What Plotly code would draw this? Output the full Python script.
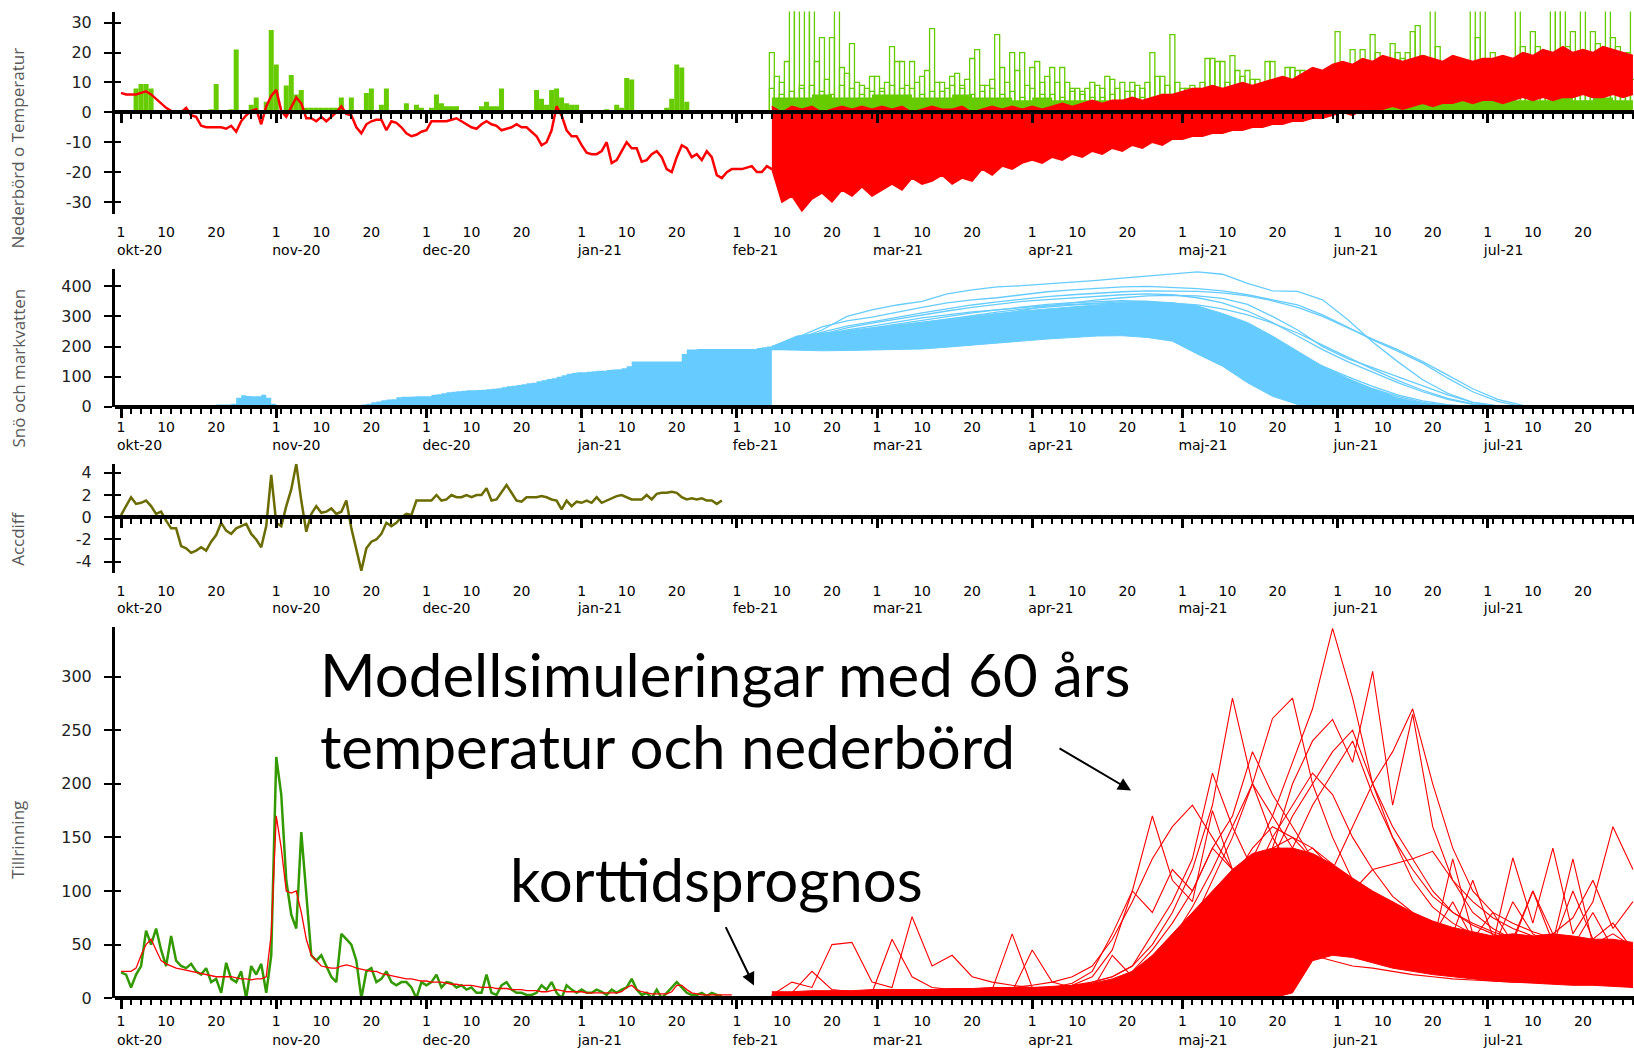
import plotly.graph_objects as go
import pandas as pd

W, H = 1634, 1058

# ---------------------------------------------------------------- data
obs_start = "2020-10-01"
ens_start = "2021-02-08"

months = ["okt-20", "nov-20", "dec-20", "jan-21", "feb-21", "mar-21",
          "apr-21", "maj-21", "jun-21", "jul-21"]
month_starts = ["2020-10-01", "2020-11-01", "2020-12-01", "2021-01-01", "2021-02-01",
                "2021-03-01", "2021-04-01", "2021-05-01", "2021-06-01", "2021-07-01"]
day_numbers = [1, 10, 20]

# observed temperature, daily from 2020-10-01 to 2021-02-08
temp_obs = [6.5, 6, 6, 6, 6.5, 7, 6, 4.5, 3, 1.5,
            0.5, 0, 0, 1.5, -1, -1.5, -4.5, -5, -5, -5,
            -5, -5.5, -4.5, -6.5, -3, -1, 0.5, 1, -4, 2, 5.5,
            7.5, 0.5, -1.5, 2, 5, 3, -2, -2, -3, -1.5,
            -3, -1.5, 0, 2, -0.5, -1, -5, -7, -4, -3,
            -2.5, -2.5, -6, -3, -3.5, -5, -7, -8, -7.5, -6.5,
            -6, -3, -3, -3, -3, -2.5, -2, -3, -4, -5,
            -5.5, -4, -3, -4, -4.5, -6, -5.5, -5, -4, -5,
            -5, -6.5, -8, -11, -10, -6, 2, -1, -6, -8, -8,
            -11, -13.5, -14, -14, -13, -10, -17, -16, -13, -10,
            -12, -12, -16.5, -16, -14, -13, -15, -19, -20, -15,
            -11, -12, -15, -14, -16, -13, -15, -21, -22, -20, -19,
            -19, -19, -18.5, -18, -20, -20, -18, -19]

# observed precipitation, daily from 2020-10-01 to 2021-01-31
precip_obs = [0, 0, 0, 8, 9.5, 9.5, 8, 0, 0, 0,
              0, 0, 0, 0, 0, 0, 0, 0, 1, 9.5,
              0, 0, 1, 21, 0, 0, 2.5, 5, 0, 3.5, 27.5,
              16, 0, 9, 12.5, 6, 7.5, 1.5, 1.5, 1.5, 1.5,
              1.5, 1.5, 1.5, 5, 0, 5, 0, 0, 6.5, 8,
              0, 2.5, 8, 0, 0, 0, 3, 0, 2.5, 1.5,
              0, 1.5, 6, 3, 2, 2, 2, 0, 0, 0,
              0, 2, 3.5, 2, 2, 8, 0, 0, 0, 0,
              0, 0, 7.5, 4.5, 2.5, 7.5, 8, 5, 3, 2.5, 2.5,
              0, 0, 0, 0, 0, 1, 0, 2.5, 1.5, 11.5,
              11, 0, 0, 0, 0, 0, 0, 1.5, 4.5, 16,
              15, 3.5, 0, 0, 0, 0, 0, 0, 0, 0, 0]

# ensemble precipitation (outline bars), 4-day grids with different start days
precip_ens_a_start, precip_ens_a = "2021-02-08", [20, 40, 40, 25, 23, 12, 22, 17, 28, 12, 18, 11, 20, 15, 15, 8, 10, 11, 10, 20, 26, 9, 18, 19, 11, 17, 15, 9, 10, 21, 26, 23, 27, 40, 12, 40, 20, 16, 27, 40, 27, 27, 25, 40]
precip_ens_b_start, precip_ens_b = "2021-02-09", [12, 40, 17, 40, 10, 12, 17, 10, 10, 13, 21, 26, 14, 17, 10, 8, 9, 8, 9, 12, 10, 8, 17, 14, 11, 8, 14, 9, 27, 16, 20, 20, 29, 22, 15, 25, 18, 40, 22, 40, 20, 23, 22, 30]
precip_ens_c_start, precip_ens_c = "2021-02-10", [10, 9, 25, 15, 9, 8, 17, 12, 10, 9, 9, 15, 20, 10, 15, 7, 8, 10, 8, 12, 8, 10, 17, 12, 9, 10, 14, 8, 12, 21, 15, 18, 19, 15, 12, 40, 17, 22, 18, 40, 40, 20, 18]
precip_ens_d_start, precip_ens_d = "2021-02-11", [17, 40, 11, 13, 8, 10, 9, 14, 8, 11, 9, 10, 9, 12, 10, 8, 12, 7, 10, 9, 8, 18, 10, 14, 17, 15, 9, 10, 14, 14, 18, 20, 15, 12, 14, 16, 13, 18, 16, 22, 17, 40, 20]
precip_ens_e_start, precip_ens_e = "2021-02-08", [8, 7, 9, 6, 8, 7, 9, 8, 7, 9, 6, 8, 7, 8, 6, 7, 5, 6, 7, 5, 6, 7, 5, 6, 7, 5, 6, 7, 6, 8, 10, 7, 9, 11, 8, 10, 12, 9, 11, 8, 12, 10, 9, 11]
precip_ens_f_start, precip_ens_f = "2021-02-10", [6, 8, 7, 9, 6, 7, 8, 6, 7, 8, 7, 6, 5, 6, 5, 6, 5, 4, 5, 6, 5, 4, 6, 5, 4, 5, 6, 5, 7, 8, 6, 9, 7, 8, 10, 7, 9, 8, 10, 9, 8, 10, 9]
precip_ens_base = [5, 5, 6, 5, 5, 6, 6, 5, 5, 6, 5, 5, 4, 5, 4, 4, 4, 3, 4, 3, 3, 3, 4, 3, 3, 3, 3, 3, 3, 4, 4, 3, 4, 4, 4, 4, 5, 4, 4, 5, 4, 5, 4, 4]

# ensemble temperature envelope on 2-day grid from 2021-02-08
temp_ens_upper = [2, 0, 2, 1, 2, 0, 1, 2, 1, 2, 1, 2,
                  1, 2, 0, 1, 2, 1, 1, 2, 0, 1, 2, 1, 2, 1,
                  2, 1, 2, 3, 2, 3, 4, 3, 4, 4, 5, 4, 5, 6, 6,
                  7, 8, 8, 9, 8, 9, 10, 9, 10, 11, 12, 11, 13, 15, 14, 16,
                  17, 16, 18, 17, 19, 18, 17, 18, 19, 18, 17, 19, 18, 17, 18,
                  18, 19, 18, 20, 19, 21, 20, 22, 20, 21, 20, 22, 21, 20, 19]
temp_ens_lower = [-19, -30, -28, -33, -29, -27, -30, -26, -28, -25, -28, -26,
                  -24, -26, -22, -24, -23, -21, -24, -22, -23, -19, -21, -18, -19, -17,
                  -16, -17, -15, -16, -14, -15, -13, -14, -12, -13, -11, -12, -10, -11, -9,
                  -9, -8, -8, -7, -7, -6, -6, -5, -5, -4, -4, -3, -3, -2, -2, -1,
                  0, -1, 1, 0, 1, 2, 1, 2, 3, 2, 3, 3, 4, 3, 4,
                  4, 3, 4, 5, 4, 5, 4, 5, 5, 6, 5, 5, 6, 5, 6]

# snow and soil water, observed daily from 2020-10-01 to 2021-02-08
snow_obs = [0, 0, 0, 0, 0, 0, 0, 0, 0, 0,
            0, 0, 0, 0, 0, 0, 0, 0, 0, 8,
            8, 8, 10, 30, 38, 36, 35, 35, 40, 30, 10,
            3, 0, 6, 6, 0, 0, 0, 0, 0, 0,
            0, 0, 0, 0, 0, 0, 5, 8, 10, 15,
            18, 22, 24, 25, 32, 33, 33, 34, 35, 35,
            35, 40, 42, 45, 48, 50, 52, 53, 55, 55,
            56, 57, 58, 60, 62, 65, 68, 70, 72, 75,
            78, 80, 85, 88, 92, 95, 100, 105, 110, 112, 115,
            115, 116, 118, 120, 120, 122, 124, 125, 128, 135,
            150, 150, 150, 150, 150, 150, 150, 150, 150, 150,
            175, 190, 190, 192, 192, 192, 192, 192, 192, 192, 192,
            192, 192, 192, 192, 195, 198, 200, 210]

# snow ensemble on 5-day grid from 2021-02-08
snow_core_upper = [200, 235, 245, 252, 262, 272, 280, 292, 300, 310, 318, 325, 333, 340, 345, 346, 345, 335, 310, 280, 235, 185, 135, 95, 60, 30, 12, 3, 0, 0, 0]
snow_core_lower = [190, 188, 186, 187, 189, 190, 192, 198, 205, 212, 220, 225, 230, 235, 236, 230, 218, 175, 135, 80, 35, 8, 0, 0, 0, 0, 0, 0, 0, 0, 0]
snow_ens_01 = [200, 225, 255, 300, 322, 338, 350, 375, 388, 398, 402, 408, 412, 420, 427, 434, 440, 448, 440, 410, 385, 383, 355, 290, 215, 150, 90, 45, 15, 3, 0]
snow_ens_02 = [200, 230, 265, 285, 298, 315, 330, 345, 355, 362, 372, 382, 388, 393, 398, 400, 396, 392, 385, 372, 355, 338, 305, 265, 222, 185, 145, 95, 50, 18, 0]
snow_ens_03 = [198, 220, 242, 262, 278, 292, 305, 318, 330, 340, 350, 356, 362, 368, 372, 375, 372, 362, 345, 318, 280, 235, 190, 150, 115, 80, 50, 25, 8, 0, 0]
snow_ens_04 = [195, 205, 220, 232, 240, 250, 262, 275, 290, 305, 320, 335, 345, 355, 362, 368, 370, 368, 360, 340, 300, 255, 200, 160, 130, 100, 70, 40, 15, 3, 0]
snow_ens_05 = [190, 192, 195, 198, 200, 203, 205, 210, 215, 222, 228, 234, 240, 245, 248, 245, 232, 205, 165, 115, 65, 25, 5, 0, 0, 0, 0, 0, 0, 0, 0]
snow_ens_06 = [195, 210, 230, 240, 252, 262, 272, 282, 292, 302, 310, 316, 322, 328, 330, 328, 320, 302, 275, 238, 195, 150, 105, 65, 35, 12, 2, 0, 0, 0, 0]
snow_ens_07 = [200, 222, 248, 268, 282, 298, 312, 325, 338, 348, 358, 366, 372, 378, 382, 385, 385, 383, 378, 368, 352, 330, 300, 262, 225, 190, 150, 105, 60, 25, 5]
snow_ens_08 = [192, 198, 205, 215, 225, 238, 250, 262, 272, 280, 290, 298, 305, 310, 312, 310, 300, 285, 262, 232, 195, 160, 125, 90, 60, 35, 15, 5, 0, 0, 0]
snow_ens_09 = [195, 215, 238, 255, 268, 282, 295, 305, 315, 322, 330, 336, 340, 345, 348, 350, 345, 330, 300, 255, 200, 145, 95, 55, 25, 8, 0, 0, 0, 0, 0]
snow_ens_10 = [190, 195, 200, 210, 218, 228, 238, 250, 260, 270, 280, 290, 298, 305, 310, 312, 308, 295, 272, 240, 205, 170, 135, 100, 68, 40, 20, 7, 0, 0, 0]
snow_ens_11 = [198, 218, 235, 250, 262, 275, 288, 300, 312, 322, 332, 340, 346, 350, 352, 350, 342, 325, 295, 250, 195, 140, 90, 50, 20, 5, 0, 0, 0, 0, 0]
snow_ens_12 = [196, 212, 228, 244, 256, 268, 280, 292, 304, 314, 324, 332, 338, 342, 345, 346, 344, 338, 325, 305, 278, 245, 205, 165, 125, 88, 55, 28, 10, 2, 0]

# accumulated difference, daily from 2020-10-01 to 2021-01-29
accdiff_obs = [0.2, 1.0, 1.8, 1.2, 1.3, 1.5, 1.0, 0.3, 0.5, -0.3,
               -1.0, -1.0, -2.6, -2.8, -3.2, -3.0, -2.7, -3.0, -2.2, -1.6,
               -0.5, -1.2, -1.5, -1.0, -0.8, -0.6, -1.5, -2.0, -2.7, -0.8, 3.8,
               -0.5, -0.8, 1.0, 2.5, 4.8, 1.5, -1.3, 0.3, 1.0, 0.4,
               0.5, 0.8, 0.3, 0.5, 1.5, -1.0, -3.0, -4.8, -2.8, -2.2,
               -2.0, -1.5, -0.5, -0.8, -0.5, 0.0, 0.3, 0.2, 1.5, 1.5,
               1.5, 1.5, 2.0, 1.5, 1.6, 2.0, 1.8, 1.8, 2.0, 1.8,
               2.0, 2.0, 2.6, 1.5, 1.6, 2.3, 2.9, 2.2, 1.5, 1.4,
               1.8, 1.8, 1.8, 1.9, 1.8, 1.6, 1.5, 0.7, 1.5, 1.0, 1.4,
               1.3, 1.5, 1.3, 1.8, 1.3, 1.5, 1.7, 1.9, 2.0, 1.8,
               1.6, 1.6, 1.6, 2.0, 1.6, 2.1, 2.2, 2.2, 2.3, 2.2,
               1.8, 1.6, 1.7, 1.6, 1.7, 1.5, 1.5, 1.2, 1.5]

# runoff, observed (daily 2020-10-01 .. 2021-01-29) and simulated (.. 2021-01-31)
runoff_obs = [24, 22, 10, 22, 30, 63, 50, 65, 45, 30,
              58, 35, 30, 28, 32, 25, 22, 28, 15, 18,
              5, 33, 18, 15, 25, 0, 30, 22, 32, 5, 40,
              225, 190, 110, 78, 65, 155, 95, 40, 35, 40,
              30, 20, 15, 60, 55, 50, 35, 0, 25, 28,
              15, 18, 25, 15, 12, 15, 15, 10, 0, 15,
              12, 15, 22, 10, 15, 14, 10, 12, 8, 10,
              5, 5, 22, 5, 3, 12, 15, 8, 5, 5,
              3, 3, 5, 12, 8, 15, 5, 0, 12, 8, 5,
              8, 5, 5, 8, 6, 3, 8, 5, 8, 10,
              18, 8, 3, 5, 0, 8, 0, 5, 10, 15,
              10, 5, 3, 3, 5, 2, 5, 3, 2]
runoff_sim = [25, 25, 25, 28, 40, 50, 55, 45, 35, 32,
              30, 28, 27, 26, 25, 24, 23, 22, 21, 20,
              20, 20, 20, 19, 18, 18, 17, 18, 18, 20, 60,
              170, 140, 100, 98, 100, 80, 55, 40, 35, 30,
              29, 28, 28, 30, 31, 30, 28, 27, 26, 25,
              25, 23, 22, 21, 20, 19, 18, 18, 17, 16,
              16, 15, 15, 15, 14, 13, 13, 12, 12, 12,
              11, 10, 10, 10, 9, 9, 9, 8, 8, 8,
              7, 7, 7, 6, 6, 7, 8, 7, 6, 6, 6,
              6, 5, 5, 5, 5, 5, 5, 5, 6, 10,
              12, 8, 6, 5, 4, 4, 4, 4, 6, 12,
              12, 8, 5, 4, 3, 3, 3, 3, 3, 3, 3]

# runoff ensemble on 4-day grid from 2021-02-08
runoff_core_upper = [6, 6, 7, 7, 7, 8, 8, 8, 8, 9, 9, 10, 10, 10, 11, 12, 14, 18, 25, 40, 60, 80, 100, 120, 135, 140, 140, 135, 125, 112, 100, 90, 80, 72, 66, 62, 58, 60, 58, 60, 58, 55, 55, 52]
runoff_core_lower = [0, 0, 0, 0, 0, 0, 0, 0, 0, 0, 0, 0, 0, 0, 0, 0, 0, 0, 0, 0, 0, 0, 0, 0, 0, 0, 5, 35, 40, 38, 33, 28, 25, 22, 20, 18, 16, 15, 14, 13, 12, 12, 11, 10]
runoff_ens_01 = [2, 5, 25, 8, 6, 5, 55, 20, 10, 8, 7, 8, 60, 10, 8, 12, 20, 45, 100, 170, 110, 90, 175, 120, 80, 60, 50, 40, 35, 30, 28, 25, 22, 20, 18, 17, 16, 15, 15, 14, 13, 13, 12, 12]
runoff_ens_02 = [3, 15, 10, 50, 52, 15, 10, 76, 30, 40, 20, 15, 12, 10, 8, 10, 15, 20, 30, 60, 90, 130, 210, 160, 120, 100, 80, 60, 50, 40, 35, 30, 28, 26, 24, 22, 20, 20, 18, 18, 17, 16, 16, 15]
runoff_ens_03 = [2, 3, 4, 5, 5, 5, 5, 6, 6, 6, 6, 7, 7, 8, 10, 12, 15, 20, 30, 50, 80, 120, 180, 280, 200, 150, 120, 90, 70, 55, 45, 40, 35, 30, 28, 26, 25, 24, 23, 22, 21, 20, 20, 19]
runoff_ens_04 = [1, 2, 2, 3, 3, 3, 3, 3, 4, 4, 4, 4, 5, 5, 5, 6, 6, 8, 10, 15, 25, 40, 60, 90, 130, 170, 220, 270, 345, 280, 200, 150, 110, 85, 70, 60, 50, 45, 42, 40, 38, 36, 35, 33]
runoff_ens_05 = [1, 1, 2, 2, 2, 3, 3, 3, 3, 3, 4, 4, 4, 4, 5, 5, 6, 6, 8, 10, 15, 25, 40, 60, 90, 140, 200, 240, 260, 220, 305, 180, 265, 160, 110, 80, 65, 55, 50, 45, 42, 40, 38, 36]
runoff_ens_06 = [2, 2, 3, 3, 3, 4, 4, 4, 4, 5, 5, 5, 5, 6, 6, 7, 8, 10, 15, 25, 40, 70, 110, 150, 200, 261, 280, 200, 150, 110, 85, 70, 60, 50, 45, 40, 38, 36, 34, 33, 32, 30, 30, 28]
runoff_ens_07 = [1, 1, 1, 2, 2, 2, 2, 2, 3, 3, 3, 3, 3, 4, 4, 4, 5, 5, 6, 8, 12, 20, 35, 55, 80, 110, 130, 140, 120, 100, 80, 65, 55, 50, 130, 60, 50, 131, 70, 140, 60, 90, 160, 120]
runoff_ens_08 = [2, 2, 2, 3, 3, 3, 3, 4, 4, 4, 4, 5, 5, 5, 6, 6, 7, 8, 10, 14, 20, 30, 50, 80, 110, 150, 180, 210, 190, 150, 120, 95, 80, 70, 60, 55, 50, 48, 45, 44, 42, 40, 40, 38]
runoff_ens_09 = [1, 1, 1, 1, 1, 2, 2, 2, 2, 2, 2, 2, 3, 3, 3, 3, 3, 4, 4, 5, 6, 8, 10, 14, 20, 30, 45, 60, 80, 100, 120, 125, 130, 137, 110, 90, 75, 65, 58, 52, 48, 45, 42, 40]
runoff_ens_10 = [3, 3, 4, 4, 4, 5, 5, 5, 5, 5, 6, 6, 6, 45, 15, 10, 8, 40, 20, 30, 50, 70, 90, 110, 140, 160, 150, 130, 110, 95, 80, 70, 60, 55, 50, 48, 45, 90, 60, 50, 100, 55, 70, 45]
runoff_ens_11 = [2, 3, 3, 4, 4, 4, 5, 5, 5, 6, 6, 6, 7, 8, 9, 10, 12, 15, 25, 45, 70, 100, 140, 170, 230, 190, 160, 130, 100, 80, 65, 55, 48, 42, 38, 35, 33, 31, 30, 29, 28, 27, 26, 25]
runoff_ens_12 = [1, 2, 2, 2, 3, 3, 3, 3, 4, 4, 4, 4, 4, 5, 5, 5, 6, 7, 9, 12, 18, 28, 45, 70, 100, 130, 170, 200, 230, 250, 200, 160, 130, 100, 80, 70, 62, 56, 52, 60, 48, 80, 46, 44]
runoff_ens_13 = [2, 2, 2, 3, 3, 3, 3, 3, 3, 4, 4, 4, 4, 5, 5, 6, 7, 9, 12, 18, 28, 45, 70, 95, 120, 140, 150, 140, 125, 105, 90, 80, 72, 65, 60, 110, 58, 55, 100, 52, 130, 50, 60, 48]
runoff_ens_14 = [2, 3, 3, 3, 4, 4, 4, 5, 5, 5, 6, 6, 7, 8, 10, 14, 25, 60, 100, 80, 120, 100, 140, 120, 100, 90, 80, 70, 60, 50, 45, 40, 36, 33, 30, 28, 27, 26, 25, 24, 23, 22, 22, 21]
runoff_ens_15 = [2, 2, 3, 3, 3, 3, 4, 4, 4, 5, 5, 5, 6, 6, 7, 8, 10, 14, 22, 35, 55, 85, 120, 160, 200, 170, 140, 110, 85, 70, 60, 52, 46, 42, 38, 35, 33, 31, 30, 29, 28, 27, 26, 25]
runoff_ens_16 = [1, 1, 1, 2, 2, 2, 2, 2, 3, 3, 3, 3, 3, 4, 4, 4, 5, 6, 7, 9, 12, 18, 28, 45, 70, 100, 140, 180, 210, 240, 190, 150, 120, 95, 80, 68, 60, 54, 50, 47, 45, 43, 41, 40]
runoff_ens_17 = [3, 4, 4, 5, 5, 5, 6, 6, 7, 7, 8, 9, 10, 12, 15, 20, 30, 55, 90, 130, 160, 180, 150, 120, 100, 85, 72, 60, 52, 45, 40, 36, 33, 30, 28, 27, 26, 25, 24, 23, 22, 22, 21, 20]
runoff_ens_18 = [1, 1, 1, 1, 2, 2, 2, 2, 2, 2, 3, 3, 3, 3, 3, 4, 4, 5, 6, 7, 9, 12, 16, 22, 30, 45, 65, 90, 120, 160, 200, 230, 270, 200, 140, 100, 80, 70, 62, 56, 52, 48, 46, 44]
runoff_ens_19 = [2, 2, 2, 2, 3, 3, 3, 3, 4, 4, 4, 4, 5, 5, 5, 6, 6, 7, 9, 12, 16, 22, 32, 45, 60, 75, 90, 100, 95, 85, 75, 68, 62, 58, 90, 55, 80, 52, 100, 60, 75, 110, 65, 90]
runoff_ens_20 = [2, 2, 3, 3, 3, 3, 4, 4, 4, 4, 5, 5, 5, 6, 6, 7, 8, 10, 13, 18, 25, 35, 50, 70, 90, 110, 120, 110, 95, 80, 70, 62, 56, 52, 48, 45, 42, 40, 38, 36, 35, 34, 33, 32]

# ---------------------------------------------------------------- styles
GREEN = "#66cc00"
RED = "#ff0000"
BLUE = "#66ccff"
OLIVE = "#6b6b00"
DKGREEN = "#339900"
DAY_MS = 86400000


def daily(start, vals):
    return pd.date_range(start, periods=len(vals), freq="D")


def grid(start, vals, step):
    return pd.date_range(start, periods=len(vals), freq=f"{step}D")


def py(px):
    return 1 - px / H


def pxx(px):
    return px / W


XR = ["2020-09-29 19:00", "2021-07-30 05:00"]
XD = [115 / W, 1.0]

panels = [
    dict(yr=[-34, 33.7], top=11.7, bot=216.0, ytv=[-30, -20, -10, 0, 10, 20, 30],
         day_pos=223.7, mon_pos=242.4, title="Nederbörd o Temperatur", title_c=150),
    dict(yr=[0, 457], top=271.7, bot=410.7, ytv=[0, 100, 200, 300, 400],
         day_pos=420.7, mon_pos=439.4, title="Snö och markvatten", title_c=372),
    dict(yr=[-5, 4.8], top=468.3, bot=578.3, ytv=[-4, -2, 0, 2, 4],
         day_pos=586.4, mon_pos=604.1, title="Accdiff", title_c=544),
    dict(yr=[0, 346], top=633.3, bot=1007.7, ytv=[0, 50, 100, 150, 200, 250, 300],
         day_pos=1020.9, mon_pos=1039.7, title="Tillrinning", title_c=848),
]

fig = go.Figure()


def add(tr):
    fig.add_trace(tr)


# ---------------------------- panel 1: precipitation & temperature
xa, ya = "x", "y"
add(go.Scatter(x=grid(ens_start, precip_ens_base, 4), y=precip_ens_base, mode="lines",
               line=dict(color=GREEN, width=0, shape="hv"), fill="tozeroy", fillcolor=GREEN,
               xaxis=xa, yaxis=ya))
for st, vals in [(precip_ens_a_start, precip_ens_a), (precip_ens_b_start, precip_ens_b),
                 (precip_ens_c_start, precip_ens_c), (precip_ens_d_start, precip_ens_d),
                 (precip_ens_e_start, precip_ens_e), (precip_ens_f_start, precip_ens_f)]:
    add(go.Bar(x=grid(st, vals, 4), y=vals, width=DAY_MS,
               marker=dict(color="rgba(0,0,0,0)", line=dict(color=GREEN, width=1.3)),
               xaxis=xa, yaxis=ya))
tgrid = grid(ens_start, temp_ens_upper, 2)
add(go.Scatter(x=tgrid, y=temp_ens_upper, mode="lines", line=dict(color=RED, width=1.5),
               xaxis=xa, yaxis=ya))
add(go.Scatter(x=tgrid, y=temp_ens_lower, mode="lines", line=dict(color=RED, width=1.5),
               fill="tonexty", fillcolor=RED, xaxis=xa, yaxis=ya))
add(go.Bar(x=daily(obs_start, precip_obs), y=precip_obs, width=DAY_MS,
           marker=dict(color=GREEN, line=dict(width=0)), xaxis=xa, yaxis=ya))
add(go.Scatter(x=daily(obs_start, temp_obs), y=temp_obs, mode="lines",
               line=dict(color=RED, width=2.5), xaxis=xa, yaxis=ya))

# ---------------------------- panel 2: snow & soil water
xa, ya = "x2", "y2"
add(go.Scatter(x=daily(obs_start, snow_obs), y=snow_obs, mode="lines",
               line=dict(color=BLUE, width=0, shape="hv"), fill="tozeroy", fillcolor=BLUE,
               xaxis=xa, yaxis=ya))
sgrid = grid(ens_start, snow_core_upper, 5)
add(go.Scatter(x=sgrid, y=snow_core_upper, mode="lines", line=dict(color=BLUE, width=1),
               xaxis=xa, yaxis=ya))
add(go.Scatter(x=sgrid, y=snow_core_lower, mode="lines", line=dict(color=BLUE, width=1),
               fill="tonexty", fillcolor=BLUE, xaxis=xa, yaxis=ya))
for vals in [snow_ens_01, snow_ens_02, snow_ens_03, snow_ens_04, snow_ens_05, snow_ens_06,
             snow_ens_07, snow_ens_08, snow_ens_09, snow_ens_10, snow_ens_11, snow_ens_12]:
    add(go.Scatter(x=grid(ens_start, vals, 5), y=vals, mode="lines",
                   line=dict(color=BLUE, width=1.3), xaxis=xa, yaxis=ya))

# ---------------------------- panel 3: accdiff
xa, ya = "x3", "y3"
add(go.Scatter(x=daily(obs_start, accdiff_obs), y=accdiff_obs, mode="lines",
               line=dict(color=OLIVE, width=2.5), xaxis=xa, yaxis=ya))

# ---------------------------- panel 4: runoff
xa, ya = "x4", "y4"
rgrid = grid(ens_start, runoff_core_upper, 4)
add(go.Scatter(x=rgrid, y=runoff_core_upper, mode="lines", line=dict(color=RED, width=1),
               xaxis=xa, yaxis=ya))
add(go.Scatter(x=rgrid, y=runoff_core_lower, mode="lines", line=dict(color=RED, width=1),
               fill="tonexty", fillcolor=RED, xaxis=xa, yaxis=ya))
for vals in [runoff_ens_01, runoff_ens_02, runoff_ens_03, runoff_ens_04, runoff_ens_05,
             runoff_ens_06, runoff_ens_07, runoff_ens_08, runoff_ens_09, runoff_ens_10,
             runoff_ens_11, runoff_ens_12, runoff_ens_13, runoff_ens_14, runoff_ens_15,
             runoff_ens_16, runoff_ens_17, runoff_ens_18, runoff_ens_19, runoff_ens_20]:
    add(go.Scatter(x=grid(ens_start, vals, 4), y=vals, mode="lines",
                   line=dict(color=RED, width=1.1), xaxis=xa, yaxis=ya))
add(go.Scatter(x=daily(obs_start, runoff_obs), y=runoff_obs, mode="lines",
               line=dict(color=DKGREEN, width=2.5), xaxis=xa, yaxis=ya))
add(go.Scatter(x=daily(obs_start, runoff_sim), y=runoff_sim, mode="lines",
               line=dict(color=RED, width=1.3), xaxis=xa, yaxis=ya))

# ---------------------------------------------------------------- axes
day_ticks, day_text = [], []
for ms in month_starts:
    for d in day_numbers:
        day_ticks.append(pd.Timestamp(ms) + pd.Timedelta(days=d - 1))
        day_text.append(str(d))

TICKFONT = dict(family="DejaVu Sans", size=14, color="black")
layout = dict(width=W, height=H, margin=dict(l=0, r=0, t=0, b=0),
              paper_bgcolor="white", plot_bgcolor="white", showlegend=False,
              barmode="overlay", hovermode=False)
annotations = []

for i, p in enumerate(panels):
    n = i + 1
    xname = "x" if n == 1 else f"x{n}"
    yname = "y" if n == 1 else f"y{n}"
    xkey = "xaxis" if n == 1 else f"xaxis{n}"
    ykey = "yaxis" if n == 1 else f"yaxis{n}"
    d0, d1 = py(p["bot"]), py(p["top"])
    r0, r1 = p["yr"]
    zero_pos = d0 + (0 - r0) / (r1 - r0) * (d1 - d0)
    layout[xkey] = dict(domain=XD, range=XR, type="date", showgrid=False, zeroline=False,
                        showline=True, linecolor="black", linewidth=3.5,
                        ticks="outside", tickvals=month_starts, ticklen=9, tickwidth=3,
                        tickcolor="black", showticklabels=False,
                        minor=dict(ticks="outside", tickmode="linear", tick0="2020-10-01",
                                   dtick=2 * DAY_MS, ticklen=5, tickwidth=1.5,
                                   tickcolor="black"),
                        anchor="free", position=zero_pos, layer="above traces")
    layout[ykey] = dict(domain=[d0, d1], range=p["yr"], showgrid=False, zeroline=False,
                        showline=True, linecolor="black", linewidth=3,
                        ticks="outside", ticklen=8, tickwidth=2, tickcolor="black",
                        tickvals=p["ytv"], ticktext=[str(v) for v in p["ytv"]],
                        tickfont=dict(family="DejaVu Sans", size=16, color="#222222"),
                        ticklabelstandoff=9, anchor=xname, layer="above traces")
    # inner half of the crossing y ticks
    yi = 4 + n
    layout[f"yaxis{yi}"] = dict(range=p["yr"], overlaying=yname, anchor=xname, side="left",
                                showgrid=False, zeroline=False, showline=False,
                                ticks="inside", ticklen=6, tickwidth=2, tickcolor="black",
                                tickvals=p["ytv"], showticklabels=False)
    add(go.Scatter(x=[month_starts[0]], y=[p["ytv"][0]], mode="markers",
                   marker=dict(opacity=0), xaxis=xname, yaxis=f"y{yi}", hoverinfo="skip"))
    # day-number and month labels
    dn = 4 + n
    mn = 8 + n
    layout[f"xaxis{dn}"] = dict(range=XR, type="date", overlaying=xname, anchor="free",
                                position=py(p["day_pos"]), showline=False, showgrid=False,
                                zeroline=False, ticks="", tickvals=day_ticks,
                                ticktext=day_text, tickfont=TICKFONT)
    layout[f"xaxis{mn}"] = dict(range=XR, type="date", overlaying=xname, anchor="free",
                                position=py(p["mon_pos"]), showline=False, showgrid=False,
                                zeroline=False, ticks="", tickvals=month_starts,
                                ticktext=months, tickfont=TICKFONT,
                                ticklabelposition="outside right", ticklabelshift=-4)
    for ax in (dn, mn):
        add(go.Scatter(x=[month_starts[0]], y=[0], mode="markers",
                       marker=dict(opacity=0), xaxis=f"x{ax}", yaxis=yname,
                       hoverinfo="skip"))
    annotations.append(dict(text=p["title"], x=pxx(18), y=py(p["title_c"]), xref="paper",
                            yref="paper", textangle=-90, showarrow=False,
                            font=dict(family="Open Sans", size=17, color="#595959"),
                            xanchor="center", yanchor="middle"))

BIG = dict(family="Lato", size=60, color="black")
annotations += [
    dict(text="Modellsimuleringar med 60 års", x=pxx(318), y=py(680), xref="paper",
         yref="paper", showarrow=False, font=BIG, xanchor="left", yanchor="middle"),
    dict(text="temperatur och nederbörd", x=pxx(318), y=py(753), xref="paper",
         yref="paper", showarrow=False, font=BIG, xanchor="left", yanchor="middle"),
    dict(text="korttidsprognos", x=pxx(508), y=py(887), xref="paper",
         yref="paper", showarrow=False, font=BIG, xanchor="left", yanchor="middle"),
    dict(text="", x=pxx(1131), y=py(798), xref="paper", yref="paper", showarrow=True,
         ax=-73, ay=-43, arrowhead=2, arrowsize=1.3, arrowwidth=2, arrowcolor="black"),
    dict(text="", x=pxx(754), y=py(995), xref="paper", yref="paper", showarrow=True,
         ax=-29, ay=-60, arrowhead=2, arrowsize=1.3, arrowwidth=2, arrowcolor="black"),
]
layout["annotations"] = annotations
fig.update_layout(**layout)
fig.update_traces(hoverinfo="skip")

fig.write_html("out.html", config={"displayModeBar": False},
               post_script="document.body.style.margin='0';document.body.style.overflow='hidden';")
